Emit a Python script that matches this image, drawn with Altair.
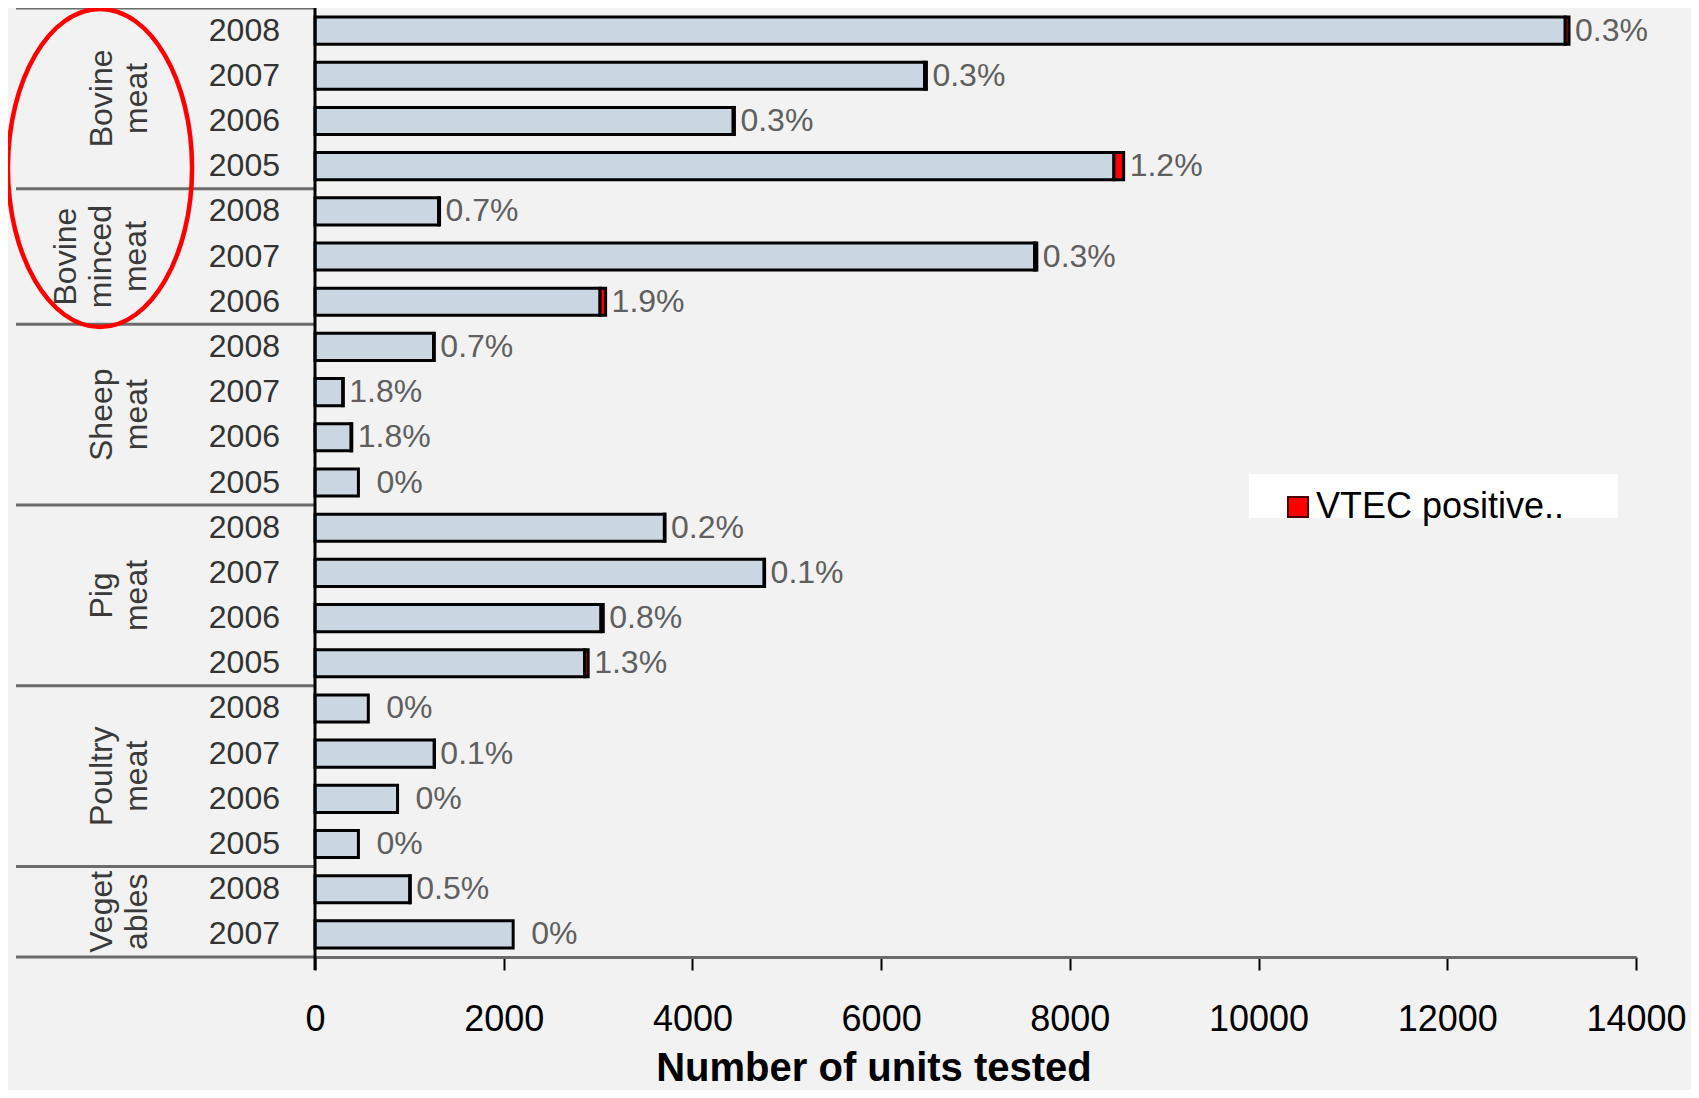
import altair as alt
import pandas as pd

# ---- data ----
groups = ["Bovine meat"] * 4 + ["Bovine minced meat"] * 3 + ["Sheep meat"] * 4 + \
         ["Pig meat"] * 4 + ["Poultry meat"] * 4 + ["Vegetables"] * 2
years = ["2008", "2007", "2006", "2005",
         "2008", "2007", "2006",
         "2008", "2007", "2006", "2005",
         "2008", "2007", "2006", "2005",
         "2008", "2007", "2006", "2005",
         "2008", "2007"]
units_tested = [13290, 6480, 4445, 8570,
                1320, 7650, 3080,
                1265, 300, 390, 460,
                3710, 4765, 3055, 2895,
                565, 1265, 875, 460,
                1010, 2100]
vtec_positive = [40, 19, 13, 103,
                 9, 23, 59,
                 9, 5, 7, 0,
                 7, 5, 24, 38,
                 0, 1, 0, 0,
                 5, 0]
pct_labels = ["0.3%", "0.3%", "0.3%", "1.2%",
              "0.7%", "0.3%", "1.9%",
              "0.7%", "1.8%", "1.8%", "0%",
              "0.2%", "0.1%", "0.8%", "1.3%",
              "0%", "0.1%", "0%", "0%",
              "0.5%", "0%"]
group_order = ["Bovine meat", "Bovine minced meat", "Sheep meat", "Pig meat", "Poultry meat", "Vegetables"]
group_text = ["Bovine\nmeat", "Bovine\nminced\nmeat", "Sheep\nmeat", "Pig\nmeat", "Poultry\nmeat", "Veget\nables"]
x_ticks = [0, 2000, 4000, 6000, 8000, 10000, 12000, 14000]

# ---- tables ----
rows = pd.DataFrame({
    "idx": list(range(len(groups))),
    "group": groups,
    "year": years,
    "total": units_tested,
    "pos": vtec_positive,
    "label": pct_labels,
})
rows["rest"] = rows["total"] - rows["pos"]
rows["zero"] = 0

starts = [groups.index(g) for g in group_order]
sizes = [groups.count(g) for g in group_order]
glab = pd.DataFrame({"text": group_text, "start": starts, "n": sizes,
                     "lines": [t.count("\n") + 1 for t in group_text]})
glab["center"] = glab["start"] + glab["n"] / 2
seps = pd.DataFrame({"sep": starts + [len(groups)]})
one = pd.DataFrame({"a": [0]})

W, H = 1321, 949
FONT = "Liberation Sans"
xscale = alt.Scale(domain=[0, 14000], nice=False, zero=True)
yscale = alt.Scale(domain=[0, len(groups)], reverse=True, nice=False, zero=False)
xaxis = alt.Axis(values=x_ticks, title=None, grid=False, format="d",
                 domainColor="#6b6b6b", domainWidth=3,
                 tickColor="black", tickWidth=2, tickSize=13,
                 labelFont=FONT, labelFontSize=36, labelColor="black",
                 labelPadding=32, labelFlush=False, labelOverlap=False)

base = alt.Chart(rows).transform_calculate(
    top="datum.idx + 0.2", bot="datum.idx + 0.8", mid="datum.idx + 0.5",
    series="'VTEC positive..'")

bars = base.mark_rect(fill="#CBD6E3", stroke="black", strokeWidth=3).encode(
    x=alt.X("zero:Q", scale=xscale, axis=xaxis),
    x2="rest:Q",
    y=alt.Y("top:Q", scale=yscale, axis=None),
    y2="bot:Q",
)

red = base.transform_filter("datum.pos > 0").mark_rect(stroke="black", strokeWidth=3).encode(
    x=alt.X("rest:Q", scale=xscale, axis=xaxis),
    x2="total:Q",
    y=alt.Y("top:Q", scale=yscale, axis=None),
    y2="bot:Q",
    color=alt.Color("series:N",
                    scale=alt.Scale(domain=["VTEC positive.."], range=["#FF0000"]),
                    legend=alt.Legend(orient="none", legendX=965, legendY=481, title=None,
                                      padding=0, symbolType="square", symbolSize=400,
                                      symbolStrokeColor="#4a0000", symbolStrokeWidth=2,
                                      labelFont=FONT, labelFontSize=36, labelColor="black",
                                      labelOffset=0, labelLimit=400)),
)

pct = base.transform_filter("datum.label != '0%'").mark_text(
    align="left", baseline="middle", dx=6, font=FONT, fontSize=32, color="#5f5f5f").encode(
    x=alt.X("total:Q", scale=xscale, axis=xaxis),
    y=alt.Y("mid:Q", scale=yscale, axis=None),
    text="label:N",
)
pct0 = base.transform_filter("datum.label == '0%'").mark_text(
    align="left", baseline="middle", dx=18, font=FONT, fontSize=32, color="#5f5f5f").encode(
    x=alt.X("total:Q", scale=xscale, axis=xaxis),
    y=alt.Y("mid:Q", scale=yscale, axis=None),
    text="label:N",
)

year_txt = base.mark_text(align="right", baseline="middle", font=FONT, fontSize=32,
                          color="#333333").encode(
    x=alt.value(-35),
    y=alt.Y("mid:Q", scale=yscale, axis=None),
    text="year:N",
)

gbase = alt.Chart(glab)
gstyle = dict(angle=270, align="center", baseline="alphabetic", lineBreak="\n",
              lineHeight=35, font=FONT, fontSize=32, color="#3a3a3a")
group_txt2 = gbase.transform_filter("datum.lines == 2").mark_text(**gstyle).encode(
    x=alt.value(-203),
    y=alt.Y("center:Q", scale=yscale, axis=None),
    text="text:N",
)
group_txt3 = gbase.transform_filter("datum.lines == 3").mark_text(**gstyle).encode(
    x=alt.value(-239),
    y=alt.Y("center:Q", scale=yscale, axis=None),
    text="text:N",
)

sep_rules = alt.Chart(seps).mark_rule(color="#6b6b6b", strokeWidth=3).encode(
    x=alt.value(-299), x2=alt.value(0),
    y=alt.Y("sep:Q", scale=yscale, axis=None),
)

vaxis = alt.Chart(one).mark_rule(color="black", strokeWidth=3).encode(
    x=alt.value(0), y=alt.value(-10), y2=alt.value(H + 13))

legend_box = alt.Chart(one).mark_rect(fill="white").encode(
    x=alt.value(934), x2=alt.value(1303), y=alt.value(466), y2=alt.value(510))

xtitle = alt.Chart(one).mark_text(text="Number of units tested", font=FONT, fontSize=40,
                                  fontWeight="bold", color="black", align="center",
                                  baseline="alphabetic").encode(
    x=alt.value(559), y=alt.value(1073))

ellipse = alt.Chart(one).mark_point(
    shape="M -0.579,0 A 0.579,1 0 1,0 0.579,0 A 0.579,1 0 1,0 -0.579,0 Z",
    size=318 * 318, filled=False, stroke="#FF0000", strokeWidth=4.5, opacity=1).encode(
    x=alt.value(-215), y=alt.value(160))

chart = alt.layer(
    legend_box, sep_rules, bars, red, pct, pct0, year_txt, group_txt2, group_txt3,
    vaxis, xtitle, ellipse
).properties(
    width=W, height=H,
    autosize=alt.AutoSizeParams(type="none"),
    padding={"left": 307, "top": 0, "right": 55, "bottom": 133},
    background="#F2F2F2",
).configure_view(stroke=None)

chart.save("out.html", embed_options={"renderer": "svg", "actions": False})
